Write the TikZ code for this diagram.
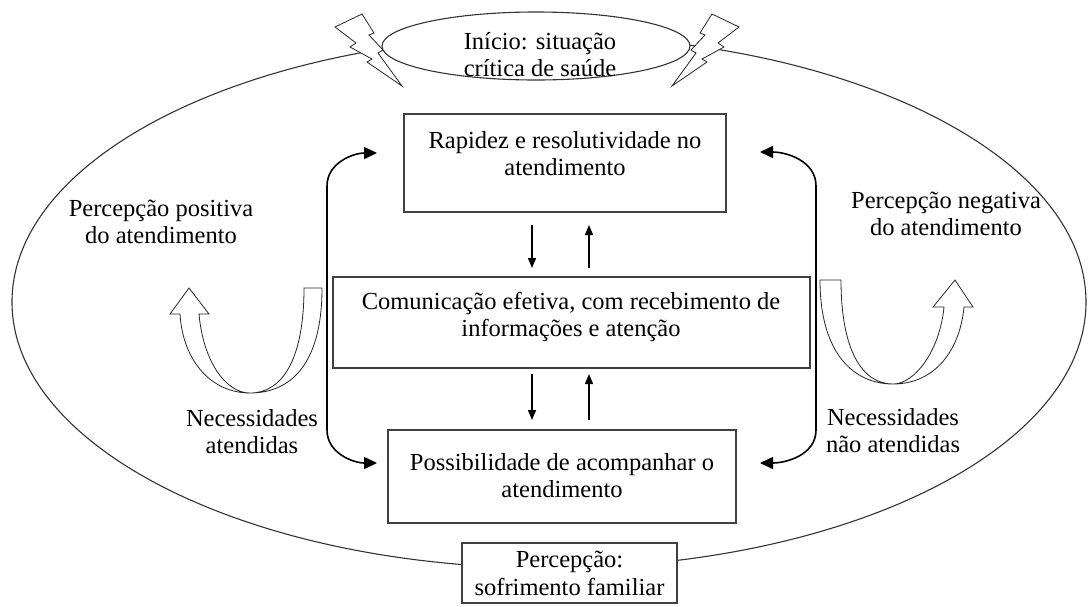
\documentclass[tikz,border=0pt]{standalone}
\usepackage{fontspec}
\setmainfont{Liberation Serif}
\usetikzlibrary{arrows.meta,shapes.geometric}
\begin{document}
\begin{tikzpicture}[x=1pt,y=-1pt,
  txt/.style={font=\fontsize{24.5}{27}\selectfont, align=center, inner sep=0pt},
  box/.style={draw=black!75, line width=1.2pt, rectangle, inner sep=0pt},
  bigarr/.style={line width=1.6pt, {Triangle[length=13pt,width=12pt]}-{Triangle[length=13pt,width=12pt]}},
  sarr/.style={line width=1.4pt, -{Triangle[length=10pt,width=8pt]}},
  uarr/.style={draw=black!85, line width=0.8pt, fill=white},
  bolt/.style={draw=black!85, line width=0.8pt, fill=white}]
\useasboundingbox (0,0) rectangle (1089,606);
% big ellipse
\node[ellipse, draw=black!80, line width=1.1pt, minimum width=1074pt, minimum height=532pt, inner sep=0pt] (big) at (549,302) {};
% lightning bolts
\draw[bolt] (335,27) -- (362,14) -- (374,33) -- (369,35) -- (383,50) -- (378,53) -- (402,86) -- (367,62) -- (372,59) -- (350,47) -- (356,43) -- cycle;
\draw[bolt] (739,27) -- (712,14) -- (700,33) -- (705,35) -- (691,50) -- (696,53) -- (672,86) -- (707,62) -- (702,59) -- (724,47) -- (718,43) -- cycle;
% top ellipse
\node[ellipse, draw=black!80, line width=1.1pt, fill=white, minimum width=308pt, minimum height=68pt, inner sep=0pt] (top) at (536,46) {};
\node[txt] (toptxt) at (540,55) {Início: situação\\crítica de saúde};
% boxes
\node[box, minimum width=322pt, minimum height=98pt] (b1) at (565,163) {};
\node[txt] (t1) at (565,154) {Rapidez e resolutividade no\\atendimento};
\node[box, minimum width=477pt, minimum height=91pt] (b2) at (571.5,322.5) {};
\node[txt] (t2) at (571,317) {Comunicação efetiva, com recebimento de\\informações e atenção};
\node[box, minimum width=348pt, minimum height=93pt] (b3) at (562,476.5) {};
\node[txt] (t3) at (562,476) {Possibilidade de acompanhar o\\atendimento};
\node[box, fill=white, minimum width=215pt, minimum height=60pt, font=\fontsize{24.5}{28}\selectfont, align=center] (b4) at (569.5,573) {Percepção:\\sofrimento familiar};
% side texts
\node[txt] (pp) at (161,222) {Percepção positiva\\do atendimento};
\node[txt] (na) at (252,432) {Necessidades\\atendidas};
\node[txt] (pn) at (946,214) {Percepção negativa\\do atendimento};
\node[txt] (nn) at (893,431) {Necessidades\\não atendidas};
% bracket arrows
\coordinate (lt) at (377,153); \coordinate (lb) at (377,463);
\coordinate (la) at (327,186); \coordinate (lz) at (327,430);
\draw[bigarr] (lt) to[out=180,in=90] (la) -- (lz) to[out=-90,in=180] (lb);
\coordinate (rt) at (760,152); \coordinate (rb) at (760,463);
\coordinate (ra) at (816,186); \coordinate (rz) at (816,430);
\draw[bigarr] (rt) to[out=0,in=90] (ra) -- (rz) to[out=-90,in=0] (rb);
% small arrows
\coordinate (a1s) at (532,225); \coordinate (a1e) at (532,268);
\coordinate (a2s) at (589,268); \coordinate (a2e) at (589,225);
\coordinate (a3s) at (532,374); \coordinate (a3e) at (532,420);
\coordinate (a4s) at (589,420); \coordinate (a4e) at (589,374);
\draw[sarr] (a1s) -- (a1e);
\draw[sarr] (a2s) -- (a2e);
\draw[sarr] (a3s) -- (a3e);
\draw[sarr] (a4s) -- (a4e);
% U arrows
\draw[uarr] (304,288) -- (322,288) .. controls (322,365) and (290,393) .. (250,393) .. controls (212,393) and (183,362) .. (180,314) -- (170,314) -- (189,288) -- (209,314) -- (199,314) .. controls (203,360) and (225,393) .. (250,393) .. controls (282,393) and (304,360) .. (304,288) -- cycle;
\draw[uarr] (841,280) -- (820,280) .. controls (820,355) and (855,384) .. (893,384) .. controls (935,384) and (960,350) .. (964,307) -- (973,307) -- (955,280) -- (933,307) -- (944,307) .. controls (940,350) and (915,384) .. (893,384) .. controls (862,384) and (841,350) .. (841,280) -- cycle;
\end{tikzpicture}
\end{document}
